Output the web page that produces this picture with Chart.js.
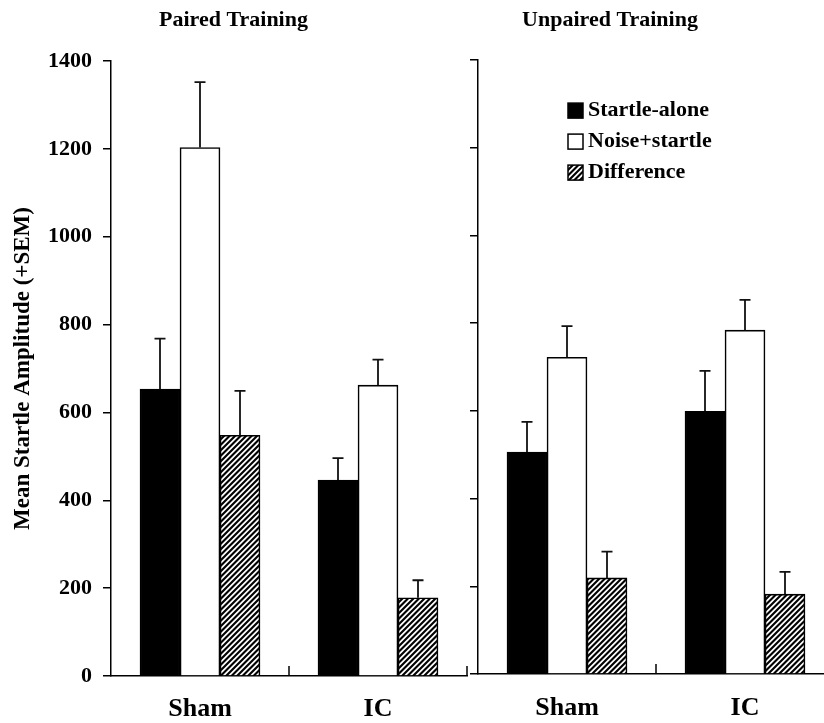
<!DOCTYPE html>
<html><head><meta charset="utf-8">
<script src="https://cdn.jsdelivr.net/npm/chart.js@4.4.0/dist/chart.umd.min.js"></script>
<style>
html,body{margin:0;padding:0;background:#fff;overflow:hidden;}
#wrap{position:relative;width:824px;height:723px;overflow:hidden;background:#fff;}
#left{position:absolute;left:0;top:0;}
#right{position:absolute;left:386px;top:0;}
</style></head><body>
<div id="wrap"><canvas id="left" width="470" height="723"></canvas><canvas id="right" width="448" height="723"></canvas></div>
<script>
const categories = ['Sham', 'IC'];
const seriesNames = ['Startle-alone', 'Noise+startle', 'Difference'];
const yTickValues = [0, 200, 400, 600, 800, 1000, 1200, 1400];
const yTickLabels = ['0', '200', '400', '600', '800', '1000', '1200', '1400'];
const panelTitles = ['Paired Training', 'Unpaired Training'];
const yAxisTitle = 'Mean Startle Amplitude (+SEM)';

const pairedStartleAlone = [653, 446];
const pairedStartleAloneSEM = [115, 50];
const pairedNoiseStartle = [1203, 662];
const pairedNoiseStartleSEM = [149, 58];
const pairedDifference = [548, 178];
const pairedDifferenceSEM = [101, 40];

const unpairedStartleAlone = [506, 599];
const unpairedStartleAloneSEM = [69, 92];
const unpairedNoiseStartle = [722, 784];
const unpairedNoiseStartleSEM = [71, 69];
const unpairedDifference = [219, 182];
const unpairedDifferenceSEM = [60, 51];

const FONT = '"Liberation Serif", "Times New Roman", serif';

function makeHatch() {
  const s = 11;
  const c = document.createElement('canvas');
  c.width = s; c.height = s;
  const g = c.getContext('2d');
  g.fillStyle = '#fff'; g.fillRect(0, 0, s, s);
  g.strokeStyle = '#000'; g.lineWidth = 2.1;
  for (const k of [0, 5.5, 11, 16.5, 22]) {
    g.beginPath(); g.moveTo(-3, k + 3); g.lineTo(k + 3, -3); g.stroke();
  }
  return g.createPattern(c, 'repeat');
}
const hatch = makeHatch();
const fills = ['#000', '#fff', hatch];

function buildDatasets(values, sems) {
  return values.map((v, i) => ({
    label: seriesNames[i],
    data: v,
    sem: sems[i],
    backgroundColor: fills[i],
    borderColor: '#000',
    borderWidth: 1.6,
    barThickness: 40
  }));
}

const errorBarPlugin = {
  id: 'errorBars',
  afterDatasetsDraw(chart) {
    const ctx = chart.ctx, y = chart.scales.y;
    ctx.save();
    ctx.strokeStyle = '#111'; ctx.lineWidth = 1.8;
    chart.data.datasets.forEach((ds, di) => {
      const meta = chart.getDatasetMeta(di);
      meta.data.forEach((bar, i) => {
        const top = y.getPixelForValue(ds.data[i] + ds.sem[i]);
        ctx.beginPath();
        ctx.moveTo(bar.x, bar.y); ctx.lineTo(bar.x, top);
        ctx.moveTo(bar.x - 5.5, top); ctx.lineTo(bar.x + 5.5, top);
        ctx.stroke();
      });
    });
    ctx.restore();
  }
};

const catTickPlugin = {
  id: 'catTicks',
  afterDraw(chart) {
    const ctx = chart.ctx, x = chart.scales.x;
    const n = chart.data.labels.length;
    const half = (x.getPixelForValue(1) - x.getPixelForValue(0)) / 2;
    const yb = chart.chartArea.bottom;
    ctx.save();
    ctx.strokeStyle = '#000'; ctx.lineWidth = 1.5;
    for (let i = 0; i < n; i++) {
      const px = x.getPixelForValue(i) + half;
      ctx.beginPath(); ctx.moveTo(px, yb); ctx.lineTo(px, yb - 10); ctx.stroke();
    }
    ctx.restore();
  }
};

const legendPlugin = {
  id: 'boxLegend',
  afterDraw(chart) {
    const ctx = chart.ctx;
    const x0 = chart.chartArea.left + 90;
    const y0 = chart.chartArea.top + 50.6;
    ctx.save();
    chart.data.datasets.forEach((ds, i) => {
      const cy = y0 + i * 31;
      ctx.fillStyle = ds.backgroundColor;
      ctx.fillRect(x0, cy - 7.5, 15, 15);
      ctx.strokeStyle = '#000'; ctx.lineWidth = 1.5;
      ctx.strokeRect(x0, cy - 7.5, 15, 15);
      ctx.fillStyle = '#000';
      ctx.font = 'bold 22px ' + FONT;
      ctx.textBaseline = 'middle'; ctx.textAlign = 'left';
      ctx.fillText(ds.label, x0 + 20, cy);
    });
    ctx.restore();
  }
};

function makeChart(id, title, datasets, isLeft) {
  const plugins = [errorBarPlugin, catTickPlugin];
  if (!isLeft) plugins.push(legendPlugin);
  return new Chart(document.getElementById(id), {
    type: 'bar',
    data: { labels: categories, datasets },
    plugins,
    options: {
      responsive: false,
      animation: false,
      devicePixelRatio: 1,
      layout: { padding: { left: 0, right: isLeft ? 3 : 0, top: 0, bottom: 0 } },
      plugins: {
        legend: { display: false },
        tooltip: { enabled: false },
        title: {
          display: true, text: title, color: '#000',
          font: { family: FONT, size: 22, weight: 'bold' },
          padding: { top: 7.4, bottom: isLeft ? 27.2 : 26.2 }
        }
      },
      scales: {
        x: {
          grid: { display: false },
          border: { display: true, color: '#000', width: 1.5 },
          ticks: { color: '#000', font: { family: FONT, size: 26, weight: 'bold' }, padding: isLeft ? 9.4 : 10.4 },
          afterFit: s => { s.height = isLeft ? 47 : 49; }
        },
        y: {
          min: 0, max: 1400,
          afterBuildTicks: s => { s.ticks = yTickValues.map(v => ({ value: v })); },
          grid: { display: true, drawOnChartArea: false, drawTicks: true, tickLength: 8, color: '#000', lineWidth: 1.5 },
          border: { display: true, color: '#000', width: 1.5 },
          ticks: {
            display: isLeft, color: '#000',
            font: { family: FONT, size: 22, weight: 'bold' }, padding: 11,
            callback: (v) => yTickLabels[yTickValues.indexOf(v)]
          },
          title: {
            display: isLeft, text: yAxisTitle, color: '#000',
            font: { family: FONT, size: 23, weight: 'bold' },
            padding: { top: 9, bottom: 0 }
          },
          afterFit: s => { s.width = isLeft ? 111 : 92; }
        }
      }
    }
  });
}

makeChart('left', panelTitles[0], buildDatasets(
  [pairedStartleAlone, pairedNoiseStartle, pairedDifference],
  [pairedStartleAloneSEM, pairedNoiseStartleSEM, pairedDifferenceSEM]), true);
makeChart('right', panelTitles[1], buildDatasets(
  [unpairedStartleAlone, unpairedNoiseStartle, unpairedDifference],
  [unpairedStartleAloneSEM, unpairedNoiseStartleSEM, unpairedDifferenceSEM]), false);
</script>
</body></html>
